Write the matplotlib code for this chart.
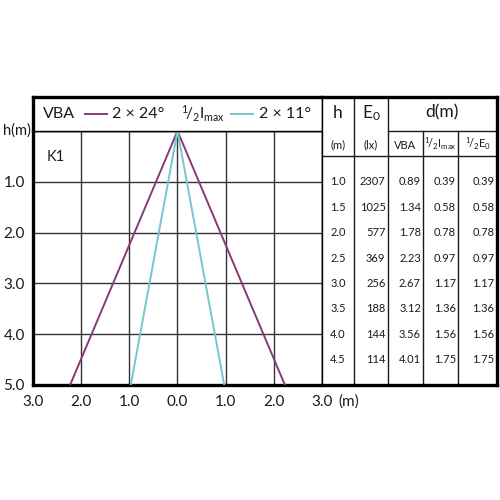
import matplotlib
matplotlib.use('Agg')
import matplotlib.pyplot as plt

plt.rcParams['font.family'] = ['Lato', 'DejaVu Sans']
plt.rcParams['mathtext.fontset'] = 'custom'
plt.rcParams['mathtext.rm'] = 'Lato'
plt.rcParams['mathtext.it'] = 'Lato:italic'

# ---- data ----
vba_x = [-2.23, 0.0, 2.23]
vba_h = [5.0, 0.0, 5.0]
imax_x = [-0.97, 0.0, 0.97]
imax_h = [5.0, 0.0, 5.0]

x_ticks = [-3, -2, -1, 0, 1, 2, 3]
x_labels = ['3.0', '2.0', '1.0', '0.0', '1.0', '2.0', '3.0']
y_ticks = [0, 1, 2, 3, 4, 5]
y_labels = ['', '1.0', '2.0', '3.0', '4.0', '5.0']

tab_h = [1.0, 1.5, 2.0, 2.5, 3.0, 3.5, 4.0, 4.5]
tab_e0 = ['2307', '1025', '577', '369', '256', '188', '144', '114']
tab_vba = ['0.89', '1.34', '1.78', '2.23', '2.67', '3.12', '3.56', '4.01']
tab_imax = ['0.39', '0.58', '0.78', '0.97', '1.17', '1.36', '1.56', '1.75']
tab_e0half = ['0.39', '0.58', '0.78', '0.97', '1.17', '1.36', '1.56', '1.75']

PURPLE = '#863a78'
CYAN = '#74c8cd'
INK = '#1a1a1a'
THICK = 2.4
THIN = 1.0


def box(x0, y0, x1, y1):
    # pixel box -> figure fraction
    return [x0 / 500, 1 - y1 / 500, (x1 - x0) / 500, (y1 - y0) / 500]


fig = plt.figure(figsize=(5, 5), dpi=100)

# ---- main plot ----
ax = fig.add_axes(box(33, 131, 322, 385))
ax.plot(vba_x, vba_h, color=PURPLE, lw=1.4, zorder=3)
ax.plot(imax_x, imax_h, color=CYAN, lw=1.4, zorder=3)
ax.set_xlim(-3, 3)
ax.set_ylim(5, 0)
ax.set_xticks(x_ticks)
ax.set_xticklabels(x_labels, fontsize=11)
ax.set_yticks(y_ticks)
ax.set_yticklabels(y_labels, fontsize=11)
ax.tick_params(axis='x', length=0, pad=7, colors=INK)
ax.tick_params(axis='y', length=0, pad=6, colors=INK)
ax.grid(True, color='#333333', lw=THIN)
for s in ['left', 'bottom']:
    ax.spines[s].set_linewidth(THICK)
for s in ['top', 'right']:
    ax.spines[s].set_linewidth(THIN)
ax.text(-2.72, 0.52, 'K1', fontsize=10.5, va='center', ha='left', color=INK)
ax.annotate('h(m)', xy=(-3, 0), xytext=(-1.5, 0), textcoords='offset points',
            fontsize=10.5, va='center', ha='right', color=INK)
ax.annotate('(m)', xy=(3, 5), xytext=(12, -7), textcoords='offset points',
            fontsize=11, va='top', ha='left', color=INK)

# ---- header over plot (legend row) ----
axh = fig.add_axes(box(33, 97, 322, 131))
axh.set_xlim(-3, 3)
axh.set_ylim(1, 0)
axh.set_xticks([])
axh.set_yticks([])
axh.spines['left'].set_linewidth(THICK)
axh.spines['top'].set_linewidth(THICK)
axh.spines['right'].set_linewidth(THIN)
axh.spines['bottom'].set_linewidth(THIN)
axh.text(-2.8, 0.5, 'VBA', fontsize=11.5, va='center', ha='left', color=INK)
axh.plot([-1.92, -1.46], [0.5, 0.5], color=PURPLE, lw=1.4)
axh.text(-1.35, 0.5, '2 × 24°', fontsize=11.5, va='center', ha='left', color=INK)
axh.text(0.08, 0.5, r'$^{1}\!/_{2}$I$_{\rm max}$', fontsize=11, va='center',
         ha='left', color=INK)
axh.plot([1.12, 1.56], [0.5, 0.5], color=CYAN, lw=1.4)
axh.text(1.7, 0.5, '2 × 11°', fontsize=11.5, va='center', ha='left', color=INK)

# ---- table ----
axt = fig.add_axes(box(322, 97, 497, 385))
axt.set_xlim(0, 175)
axt.set_ylim(5, -0.67)
axt.set_xticks([])
axt.set_yticks([])
axt.spines['left'].set_linewidth(THIN)
for s in ['top', 'right', 'bottom']:
    axt.spines[s].set_linewidth(THICK)

lk = dict(color=INK, lw=THIN)
axt.plot([32, 32], [-0.67, 5], **lk)
axt.plot([66, 66], [-0.67, 5], **lk)
axt.plot([101, 101], [0, 5], **lk)
axt.plot([136, 136], [0, 5], **lk)
axt.plot([66, 175], [0, 0], **lk)
axt.plot([0, 175], [0.5, 0.5], **lk)

axt.text(16, -0.36, 'h', fontsize=12.5, ha='center', va='center', color=INK)
axt.text(49, -0.36, r'E$_0$', fontsize=12.5, ha='center', va='center', color=INK)
axt.text(120, -0.36, 'd(m)', fontsize=12.5, ha='center', va='center', color=INK)
axt.text(16, 0.28, '(m)', fontsize=8, ha='center', va='center', color=INK)
axt.text(49, 0.28, '(lx)', fontsize=8, ha='center', va='center', color=INK)
axt.text(83.5, 0.28, 'VBA', fontsize=8, ha='center', va='center', color=INK)
axt.text(118.5, 0.25, r'$^{1}\!/_{2}$I$_{\rm max}$', fontsize=8, ha='center',
         va='center', color=INK)
axt.text(156, 0.25, r'$^{1}\!/_{2}$E$_0$', fontsize=8, ha='center',
         va='center', color=INK)

for h, e0, v, im, eh in zip(tab_h, tab_e0, tab_vba, tab_imax, tab_e0half):
    axt.text(16, h, f'{h:.1f}', fontsize=8, ha='center', va='center', color=INK)
    axt.text(63.5, h, e0, fontsize=8, ha='right', va='center', color=INK)
    axt.text(99, h, v, fontsize=8, ha='right', va='center', color=INK)
    axt.text(134, h, im, fontsize=8, ha='right', va='center', color=INK)
    axt.text(172.5, h, eh, fontsize=8, ha='right', va='center', color=INK)

fig.savefig('out.png', dpi=100, facecolor='white')
